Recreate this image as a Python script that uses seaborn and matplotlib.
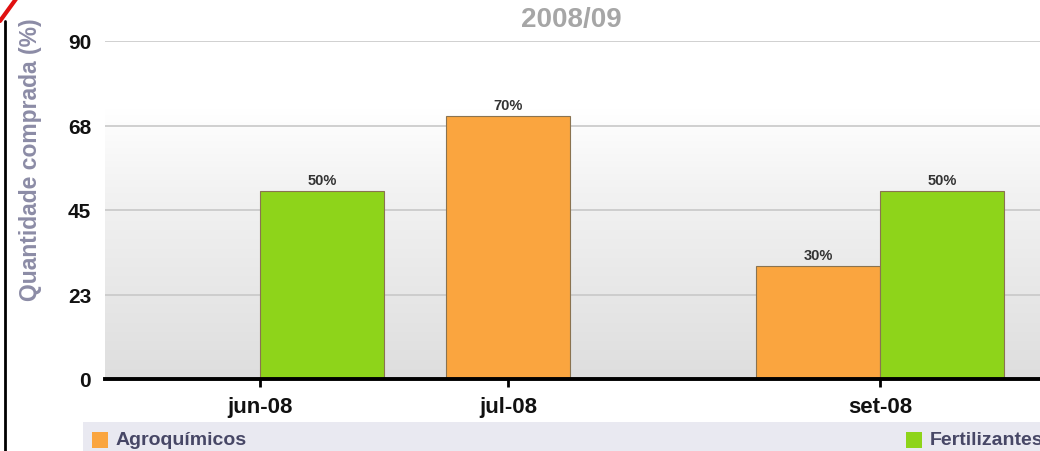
import numpy as np
import pandas as pd
import matplotlib.pyplot as plt
import seaborn as sns
from matplotlib.colors import LinearSegmentedColormap
from matplotlib.patches import Rectangle
from matplotlib.lines import Line2D

# Data
MESES = ["jun-08", "jul-08", "set-08"]
AGRO = [0, 70, 30]        # Agroquímicos
FERT = [50, None, 50]     # Fertilizantes (no bar in jul-08)
SERIES = ["Agroquímicos", "Fertilizantes"]
Y_TICKS = [0, 22.5, 45, 67.5, 90]
Y_TICK_LABELS = ["0", "23", "45", "68", "90"]

# layout
MONTH_POS = [0, 1, 2.5]
BAR_W = 0.5
COLORS = {"Agroquímicos": "#FAA53F", "Fertilizantes": "#8ED41A"}

rows = []
for i, mes in enumerate(MESES):
    present = [(s, v) for s, v in zip(SERIES, (AGRO[i], FERT[i])) if v is not None]
    n = len(present)
    for j, (s, v) in enumerate(present):
        rows.append({"mes": mes, "serie": s, "valor": v,
                     "x": MONTH_POS[i] + (j - (n - 1) / 2) * BAR_W})
df = pd.DataFrame(rows)

sns.set_theme(style="white")
plt.rcParams["font.family"] = ["Liberation Sans", "DejaVu Sans"]

fig = plt.figure(figsize=(10.4, 4.52), dpi=100)
ax = fig.add_axes([105 / 1040, 1 - 380 / 452, 1 - 105 / 1040, 338 / 452])

sns.barplot(data=df, x="x", y="valor", hue="serie", native_scale=True,
            width=1, dodge=False, palette=COLORS, saturation=1,
            edgecolor="#8a7350", linewidth=0.8, legend=False, ax=ax, zorder=3)

for cont in ax.containers:
    labels = [f"{v:.0f}%" if v > 0 else "" for v in cont.datavalues]
    ax.bar_label(cont, labels=labels, padding=3, fontsize=10.5,
                 fontweight="bold", color="#333333")

xlim = (-0.625, 3.145)
ylim = (0, 90)

# background gradient of the plot area
cmap = LinearSegmentedColormap.from_list(
    "bg", [(0, "#dedede"), (0.55, "#f2f2f2"), (0.8, "#ffffff"), (1, "#ffffff")])
grad = np.linspace(0, 1, 256).reshape(-1, 1)
ax.imshow(grad, extent=[xlim[0], xlim[1], 0, 90], origin="lower",
          aspect="auto", cmap=cmap, zorder=0)
ax.set_xlim(*xlim)
ax.set_ylim(*ylim)

for y in Y_TICKS[1:]:
    ax.axhline(y, color="#c8c8c8", lw=1.2, zorder=1)

ax.set_yticks(Y_TICKS)
ax.set_yticklabels(Y_TICK_LABELS)
ax.set_xticks(MONTH_POS)
ax.set_xticklabels(MESES)
ax.set_xlabel("")
ax.set_ylabel("")
ax.tick_params(axis="y", length=0, pad=10, labelsize=15)
ax.tick_params(axis="x", length=6, width=2, color="black", direction="out",
               pad=6, labelsize=16, bottom=True)
for lab in ax.get_xticklabels() + ax.get_yticklabels():
    lab.set_fontweight("bold")
    lab.set_color("#111111")

for side in ["top", "right", "left"]:
    ax.spines[side].set_visible(False)
ax.spines["bottom"].set_color("black")
ax.spines["bottom"].set_linewidth(2.8)
ax.spines["bottom"].set_zorder(5)

# title and y label
fig.text(571 / 1040, 1 - 20 / 452, "2008/09", ha="center", va="center",
         fontsize=20, fontweight="bold", color="#a6a6a6")
fig.text(31 / 1040, 1 - 160 / 452, "Quantidade comprada (%)", rotation=90,
         ha="center", va="center", fontsize=16.5, fontweight="bold",
         color="#8c8ca6")

# legend band
fig.patches.append(Rectangle((83 / 1040, 0), 1, 29 / 452, transform=fig.transFigure,
                             facecolor="#e9e9f1", edgecolor="none", zorder=0))
fig.patches.append(Rectangle((92 / 1040, 3 / 452), 16 / 1040, 16 / 452,
                             transform=fig.transFigure,
                             facecolor=COLORS["Agroquímicos"], edgecolor="none"))
fig.patches.append(Rectangle((906 / 1040, 3 / 452), 16 / 1040, 16 / 452,
                             transform=fig.transFigure,
                             facecolor=COLORS["Fertilizantes"], edgecolor="none"))
fig.text(116 / 1040, 11 / 452, "Agroquímicos", va="center", fontsize=14,
         fontweight="bold", color="#474766")
fig.text(930 / 1040, 11 / 452, "Fertilizantes", va="center", fontsize=14,
         fontweight="bold", color="#474766")

# frame edge on the left
fig.lines.append(Line2D([5 / 1040, 5 / 1040], [0, 1 - 22 / 452], transform=fig.transFigure,
                        color="black", lw=2))
fig.lines.append(Line2D([0, 16 / 1040], [1 - 22 / 452, 1], transform=fig.transFigure,
                        color="#e01010", lw=3))

fig.savefig("out.png", dpi=100)
